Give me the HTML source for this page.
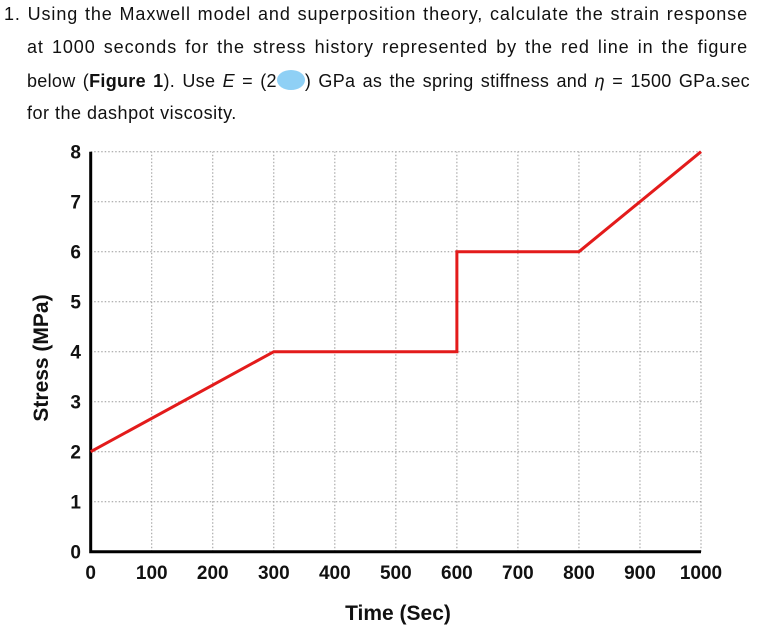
<!DOCTYPE html>
<html><head><meta charset="utf-8"><style>
body{margin:0;width:758px;height:634px;background:#fff;overflow:hidden;font-family:"Liberation Sans",Arial,sans-serif;}
.p{position:absolute;font-size:18px;color:#111;white-space:nowrap;letter-spacing:0.9px;}
.j{text-align:justify;text-align-last:justify;white-space:normal;}
</style></head><body>
<div class="p j" style="left:4px;top:4px;width:744px">1. Using the Maxwell model and superposition theory, calculate the strain response</div>
<div class="p j" style="left:27px;top:37px;width:721px">at 1000 seconds for the stress history represented by the red line in the figure</div>
<div class="p j" style="left:27px;top:70px;width:723px;letter-spacing:0.3px">below (<b>Figure 1</b>). Use <i>E</i> = (2<span style="display:inline-block;width:28px;height:20px;background:#8fd0f5;border-radius:50%;vertical-align:-3px"></span>) GPa as the spring stiffness and <i>η</i> = 1500 GPa.sec</div>
<div class="p" style="left:27px;top:103px;letter-spacing:0.5px">for the dashpot viscosity.</div>
<svg id="chart" width="758" height="634" style="position:absolute;left:0;top:0"></svg>
<script>
const xTicks=[0,100,200,300,400,500,600,700,800,900,1000];
const yTicks=[0,1,2,3,4,5,6,7,8];
const times=[0,300,600,600,800,1000];
const stress=[2,4,4,6,6,8];
const svg=document.getElementById('chart');
const NS='http://www.w3.org/2000/svg';
const X=v=>90.7+v*0.6103, Y=v=>551.7-v*50;
function mk(t,a,txt){const e=document.createElementNS(NS,t);for(const k in a)e.setAttribute(k,a[k]);if(txt!==undefined)e.textContent=txt;svg.appendChild(e);return e;}
for(const t of xTicks){if(t===0)continue;
const g=mk('line',{x1:X(t),x2:X(t),y1:Y(0),y2:Y(8),stroke:'#999','stroke-width':1,'stroke-dasharray':'1.5,2'});

}
for(const t of yTicks){if(t===0)continue;
const g=mk('line',{x1:X(0),x2:X(1000),y1:Y(t),y2:Y(t),stroke:'#999','stroke-width':1,'stroke-dasharray':'1.5,2'});

}
const ax=mk('polyline',{points:`${X(0)},${Y(8)} ${X(0)},${Y(0)} ${X(1000)},${Y(0)}`,fill:'none',stroke:'#000','stroke-width':3});


for(const t of xTicks){const l=mk('text',{x:X(t),y:579,'text-anchor':'middle','font-size':19,'font-weight':'bold',fill:'#111','font-family':'Liberation Sans, sans-serif'},t);

}
for(const t of yTicks){const l=mk('text',{x:81,y:Y(t)+7,'text-anchor':'end','font-size':19,'font-weight':'bold',fill:'#111','font-family':'Liberation Sans, sans-serif'},t);

}
const pts=times.map((t,i)=>X(t)+','+Y(stress[i])).join(' ');
const ln=mk('polyline',{points:pts,fill:'none',stroke:'#e31b1b','stroke-width':3,'stroke-linejoin':'miter'});


const xt=mk('text',{x:398,y:620,'text-anchor':'middle','font-size':21,'font-weight':'bold',fill:'#111','font-family':'Liberation Sans, sans-serif'},'Time (Sec)');


const yt=mk('text',{x:0,y:0,transform:'translate(48,358) rotate(-90)','text-anchor':'middle','font-size':21,'font-weight':'bold',fill:'#111','font-family':'Liberation Sans, sans-serif'},'Stress (MPa)');


</script>
</body></html>
